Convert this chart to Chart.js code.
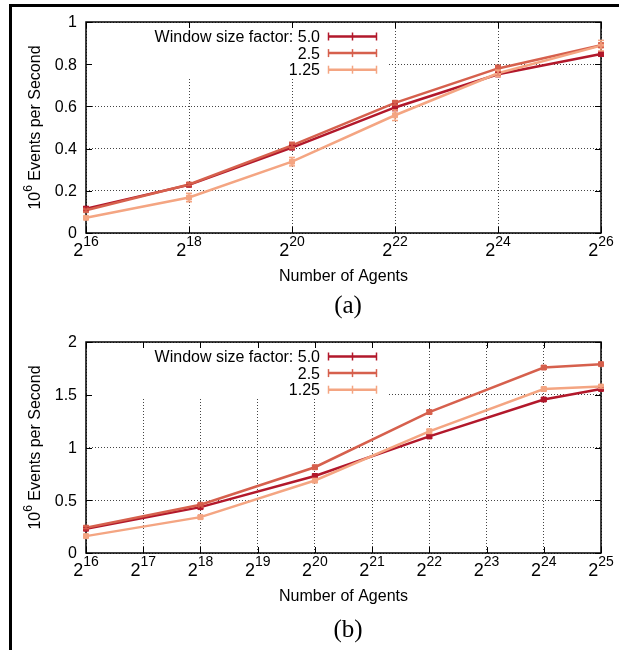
<!DOCTYPE html>
<html>
<head>
<meta charset="utf-8">
<script src="https://cdn.jsdelivr.net/npm/chart.js@4/dist/chart.umd.min.js"></script>
<style>
  body { margin: 0; background: #fff; width: 619px; height: 650px; overflow: hidden; position: relative; }
  .frame-left { position: absolute; left: 9px; top: 4px; width: 3px; height: 646px; background: #000; z-index: 2; }
  .frame-top { position: absolute; left: 9px; top: 4px; width: 610px; height: 3px; background: #000; z-index: 2; }
  canvas { position: absolute; left: 0; }
  #panelA { top: 0; }
  #panelB { top: 320px; }
</style>
</head>
<body>
<div class="frame-left"></div>
<div class="frame-top"></div>
<canvas id="panelA" width="619" height="320"></canvas>
<canvas id="panelB" width="619" height="330"></canvas>
<script>
// -----------------------------
// Shared labels
// -----------------------------
const seriesNames = ["5.0", "2.5", "1.25"];
const seriesColors = ["#b2182b", "#d6604d", "#f4a582"];
const legendPrefix = "Window size factor: ";
const xAxisTitle = "Number of Agents";
const yAxisTitle = ["10", "6", " Events per Second"];

// -----------------------------
// Panel (a) data  (x = log2 of agent count)
// -----------------------------
const expA = [16, 18, 20, 22, 24, 26];
const rateA50 = [0.115, 0.228, 0.405, 0.595, 0.752, 0.848];
const rateA25 = [0.108, 0.230, 0.415, 0.617, 0.780, 0.890];
const rateA125 = [0.072, 0.168, 0.338, 0.558, 0.757, 0.888];
const errA50 = [0.010, 0.005, 0.010, 0.015, 0.010, 0.010];
const errA25 = [0.005, 0.005, 0.015, 0.010, 0.015, 0.010];
const errA125 = [0.005, 0.020, 0.020, 0.025, 0.015, 0.025];
const xTicksA = [16, 18, 20, 22, 24, 26];
const yTicksA = [0, 0.2, 0.4, 0.6, 0.8, 1];
const yLabelsA = ["0", "0.2", "0.4", "0.6", "0.8", "1"];

// -----------------------------
// Panel (b) data
// -----------------------------
const expB = [16, 18, 20, 22, 24, 25];
const rateB50 = [0.230, 0.435, 0.730, 1.105, 1.455, 1.555];
const rateB25 = [0.240, 0.457, 0.813, 1.336, 1.758, 1.790];
const rateB125 = [0.160, 0.340, 0.687, 1.153, 1.554, 1.578];
const errB50 = [0.010, 0.015, 0.015, 0.015, 0.015, 0.010];
const errB25 = [0.010, 0.010, 0.015, 0.015, 0.015, 0.010];
const errB125 = [0.010, 0.015, 0.020, 0.020, 0.015, 0.015];
const xTicksB = [16, 17, 18, 19, 20, 21, 22, 23, 24, 25];
const yTicksB = [0, 0.5, 1, 1.5, 2];
const yLabelsB = ["0", "0.5", "1", "1.5", "2"];

const SANS = '"Liberation Sans", Arial, sans-serif';
const SERIF = '"Liberation Serif", "Times New Roman", serif';

function line(ctx, x1, y1, x2, y2) {
  ctx.beginPath();
  ctx.moveTo(x1, y1);
  ctx.lineTo(x2, y2);
  ctx.stroke();
}

// gnuplot-like frame, tick labels, key and caption
function gnuplotLook(p) {
  return {
    id: "gnuplotLook",
    beforeDatasetsDraw(chart) {
      const { ctx, chartArea: a, scales } = chart;
      ctx.save();
      // opaque key box
      ctx.fillStyle = "#fff";
      ctx.fillRect(a.left + 1, a.top + 1, 386 - a.left, 54);
      // border
      ctx.strokeStyle = "#000";
      ctx.lineWidth = 1.5;
      ctx.strokeRect(a.left, a.top, a.right - a.left, a.bottom - a.top);
      // inward ticks
      ctx.lineWidth = 1;
      p.yTicks.forEach(v => {
        const y = Math.round(scales.y.getPixelForValue(v)) + 0.5;
        line(ctx, a.left, y, a.left + 6, y);
        line(ctx, a.right - 6, y, a.right, y);
      });
      p.xTicks.forEach(v => {
        const x = Math.round(scales.x.getPixelForValue(v)) + 0.5;
        line(ctx, x, a.bottom, x, a.bottom - 6);
        line(ctx, x, a.top, x, a.top + 6);
      });
      ctx.restore();
    },
    afterDatasetsDraw(chart) {
      const { ctx, scales } = chart;
      ctx.save();
      ctx.lineWidth = 1.5;
      chart.data.datasets.forEach((ds, k) => {
        ctx.strokeStyle = ds.borderColor;
        ds.data.forEach((pt, i) => {
          const e = p.errors[k][i];
          const x = scales.x.getPixelForValue(pt.x);
          const y1 = scales.y.getPixelForValue(pt.y - e);
          const y2 = scales.y.getPixelForValue(pt.y + e);
          line(ctx, x, y1, x, y2);
          line(ctx, x - 3, y1, x + 3, y1);
          line(ctx, x - 3, y2, x + 3, y2);
        });
      });
      ctx.restore();
    },
    afterDraw(chart) {
      const { ctx, chartArea: a, scales } = chart;
      ctx.save();
      ctx.fillStyle = "#000";

      // y tick labels
      ctx.font = "16px " + SANS;
      ctx.textAlign = "right";
      ctx.textBaseline = "middle";
      p.yTicks.forEach((v, i) => {
        ctx.fillText(p.yLabels[i], a.left - 9, scales.y.getPixelForValue(v) + 1);
      });

      // x tick labels 2^n
      ctx.textAlign = "left";
      ctx.textBaseline = "alphabetic";
      p.xTicks.forEach(v => {
        const sup = String(v);
        ctx.font = "18px " + SANS;
        const wb = ctx.measureText("2").width;
        ctx.font = "14px " + SANS;
        const ws = ctx.measureText(sup).width;
        const x0 = scales.x.getPixelForValue(v) - (wb + ws) / 2;
        const base = a.bottom + 23;
        ctx.font = "18px " + SANS;
        ctx.fillText("2", x0, base);
        ctx.font = "14px " + SANS;
        ctx.fillText(sup, x0 + wb, base - 10);
      });

      // x axis title
      ctx.font = "16px " + SANS;
      ctx.textAlign = "center";
      ctx.fillText(xAxisTitle, (a.left + a.right) / 2, a.bottom + 48);

      // y axis title with superscript
      ctx.save();
      ctx.translate(40, (a.top + a.bottom) / 2);
      ctx.rotate(-Math.PI / 2);
      ctx.textAlign = "left";
      ctx.font = "16px " + SANS;
      const w0 = ctx.measureText(yAxisTitle[0]).width;
      const w2 = ctx.measureText(yAxisTitle[2]).width;
      ctx.font = "12px " + SANS;
      const w1 = ctx.measureText(yAxisTitle[1]).width;
      let tx = -(w0 + w1 + w2) / 2;
      ctx.font = "16px " + SANS;
      ctx.fillText(yAxisTitle[0], tx, 0);
      ctx.font = "12px " + SANS;
      ctx.fillText(yAxisTitle[1], tx + w0, -8);
      ctx.font = "16px " + SANS;
      ctx.fillText(yAxisTitle[2], tx + w0 + w1, 0);
      ctx.restore();

      // key
      ctx.textAlign = "right";
      ctx.textBaseline = "middle";
      ctx.font = "16px " + SANS;
      seriesNames.forEach((name, k) => {
        const y = a.top + 14.5 + k * 16.6;
        ctx.fillStyle = "#000";
        ctx.fillText((k === 0 ? legendPrefix : "") + name, 320, y + 1);
        ctx.strokeStyle = seriesColors[k];
        ctx.lineWidth = 2.5;
        line(ctx, 328, y, 377, y);
        ctx.lineWidth = 1.5;
        line(ctx, 328.5, y - 4, 328.5, y + 4);
        line(ctx, 376.5, y - 4, 376.5, y + 4);
        line(ctx, 352.5, y - 4, 352.5, y + 4);
      });

      // caption
      ctx.fillStyle = "#000";
      ctx.textAlign = "center";
      ctx.textBaseline = "alphabetic";
      ctx.font = "25px " + SERIF;
      ctx.fillText(p.caption, 348, p.captionY);
      ctx.restore();
    }
  };
}

function makeDataset(k, xs, ys) {
  return {
    label: seriesNames[k],
    data: xs.map((x, i) => ({ x: x, y: ys[i] })),
    borderColor: seriesColors[k],
    backgroundColor: seriesColors[k],
    borderWidth: 2.5,
    pointStyle: "rect",
    pointRadius: 3.5,
    pointBorderWidth: 1,
    order: 3 - k,
    clip: false
  };
}

function makePanel(id, p) {
  return new Chart(document.getElementById(id).getContext("2d"), {
    type: "line",
    data: {
      datasets: [
        makeDataset(0, p.xs, p.series[0]),
        makeDataset(1, p.xs, p.series[1]),
        makeDataset(2, p.xs, p.series[2])
      ]
    },
    options: {
      responsive: false,
      animation: false,
      layout: { padding: { left: 86, right: 18, top: 22, bottom: p.bottomPad } },
      plugins: { legend: { display: false }, tooltip: { enabled: false } },
      scales: {
        x: {
          type: "linear",
          min: p.xTicks[0],
          max: p.xTicks[p.xTicks.length - 1],
          ticks: { display: false, stepSize: p.xTicks[1] - p.xTicks[0] },
          grid: { color: "#444", lineWidth: 1, drawTicks: false },
          border: { display: false, dash: [1, 2] }
        },
        y: {
          min: p.yTicks[0],
          max: p.yTicks[p.yTicks.length - 1],
          ticks: { display: false, stepSize: p.yTicks[1] - p.yTicks[0] },
          grid: { color: "#444", lineWidth: 1, drawTicks: false },
          border: { display: false, dash: [1, 2] }
        }
      }
    },
    plugins: [gnuplotLook(p)]
  });
}

makePanel("panelA", {
  xs: expA,
  series: [rateA50, rateA25, rateA125],
  errors: [errA50, errA25, errA125],
  xTicks: xTicksA, yTicks: yTicksA, yLabels: yLabelsA,
  bottomPad: 87, caption: "(a)", captionY: 313
});

makePanel("panelB", {
  xs: expB,
  series: [rateB50, rateB25, rateB125],
  errors: [errB50, errB25, errB125],
  xTicks: xTicksB, yTicks: yTicksB, yLabels: yLabelsB,
  bottomPad: 97, caption: "(b)", captionY: 317
});
</script>
</body>
</html>
